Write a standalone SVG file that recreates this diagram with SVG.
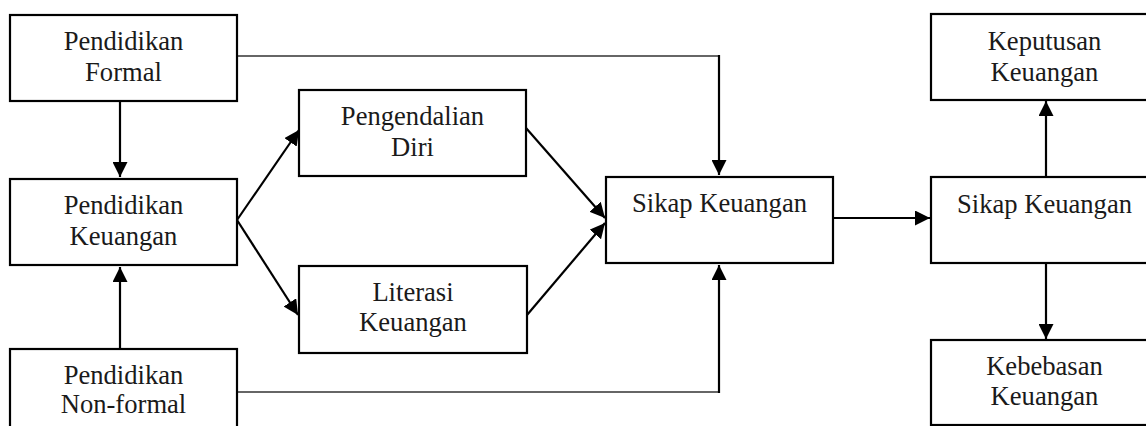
<svg xmlns="http://www.w3.org/2000/svg" width="1146" height="426" viewBox="0 0 1146 426">
<style>
.box{fill:#fff;stroke:#000;stroke-width:2.2}
.t{font-family:'Liberation Serif','DejaVu Serif',serif;font-size:26.6px;fill:#1a1a1a;text-anchor:middle}
.c{fill:none;stroke:#000;stroke-width:2.2}
.thin{fill:none;stroke:#333;stroke-width:1.5}
</style>
<defs>
<marker id="ah" markerUnits="userSpaceOnUse" markerWidth="16" markerHeight="15" refX="15" refY="7.5" orient="auto">
<path d="M0,0 L15,7.5 L0,15 z" fill="#000"/>
</marker>
</defs>
<rect width="1146" height="426" fill="#fff"/>
<g id="connectors">
<line class="c" x1="120" y1="101" x2="120" y2="177" marker-end="url(#ah)"/>
<line class="c" x1="120" y1="349" x2="120" y2="267" marker-end="url(#ah)"/>
<line class="c" x1="237" y1="220" x2="299" y2="130" marker-end="url(#ah)"/>
<line class="c" x1="237" y1="220" x2="298" y2="315" marker-end="url(#ah)"/>
<line class="c" x1="526" y1="128" x2="605" y2="218" marker-end="url(#ah)"/>
<line class="c" x1="527" y1="315" x2="605" y2="223" marker-end="url(#ah)"/>
<line class="thin" x1="237" y1="56" x2="719" y2="56"/>
<line class="c" x1="719" y1="55" x2="719" y2="175" marker-end="url(#ah)"/>
<line class="thin" x1="237" y1="392" x2="719" y2="392"/>
<line class="c" x1="719" y1="393" x2="719" y2="265" marker-end="url(#ah)"/>
<line class="c" x1="833" y1="218" x2="930" y2="218" marker-end="url(#ah)"/>
<line class="c" x1="1046" y1="177" x2="1046" y2="101" marker-end="url(#ah)"/>
<line class="c" x1="1046" y1="263" x2="1046" y2="339" marker-end="url(#ah)"/>
</g>
<g id="pendidikan-formal">
<rect class="box" x="10" y="15" width="227" height="86"/>
<text class="t" x="123.5" y="50">Pendidikan</text>
<text class="t" x="123.5" y="81">Formal</text>
</g>
<g id="pendidikan-keuangan">
<rect class="box" x="10" y="179" width="227" height="86"/>
<text class="t" x="123.5" y="214">Pendidikan</text>
<text class="t" x="123.5" y="245">Keuangan</text>
</g>
<g id="pendidikan-nonformal">
<rect class="box" x="10" y="349" width="227" height="86"/>
<text class="t" x="123.5" y="384">Pendidikan</text>
<text class="t" x="123.5" y="412.5">Non-formal</text>
</g>
<g id="pengendalian-diri">
<rect class="box" x="299" y="90" width="227" height="86"/>
<text class="t" x="412.5" y="125">Pengendalian</text>
<text class="t" x="412.5" y="156">Diri</text>
</g>
<g id="literasi-keuangan">
<rect class="box" x="299" y="266" width="228" height="87"/>
<text class="t" x="413" y="300.5">Literasi</text>
<text class="t" x="413" y="331">Keuangan</text>
</g>
<g id="sikap-keuangan-1">
<rect class="box" x="606" y="177" width="227" height="86"/>
<text class="t" x="719.5" y="212">Sikap Keuangan</text>
</g>
<g id="sikap-keuangan-2">
<rect class="box" x="931" y="177" width="227" height="86"/>
<text class="t" x="1044.5" y="212.5">Sikap Keuangan</text>
</g>
<g id="keputusan-keuangan">
<rect class="box" x="931" y="14" width="227" height="86"/>
<text class="t" x="1044.5" y="50">Keputusan</text>
<text class="t" x="1044.5" y="81">Keuangan</text>
</g>
<g id="kebebasan-keuangan">
<rect class="box" x="931" y="340" width="227" height="85"/>
<text class="t" x="1044.5" y="374.5">Kebebasan</text>
<text class="t" x="1044.5" y="405">Keuangan</text>
</g>
</svg>
